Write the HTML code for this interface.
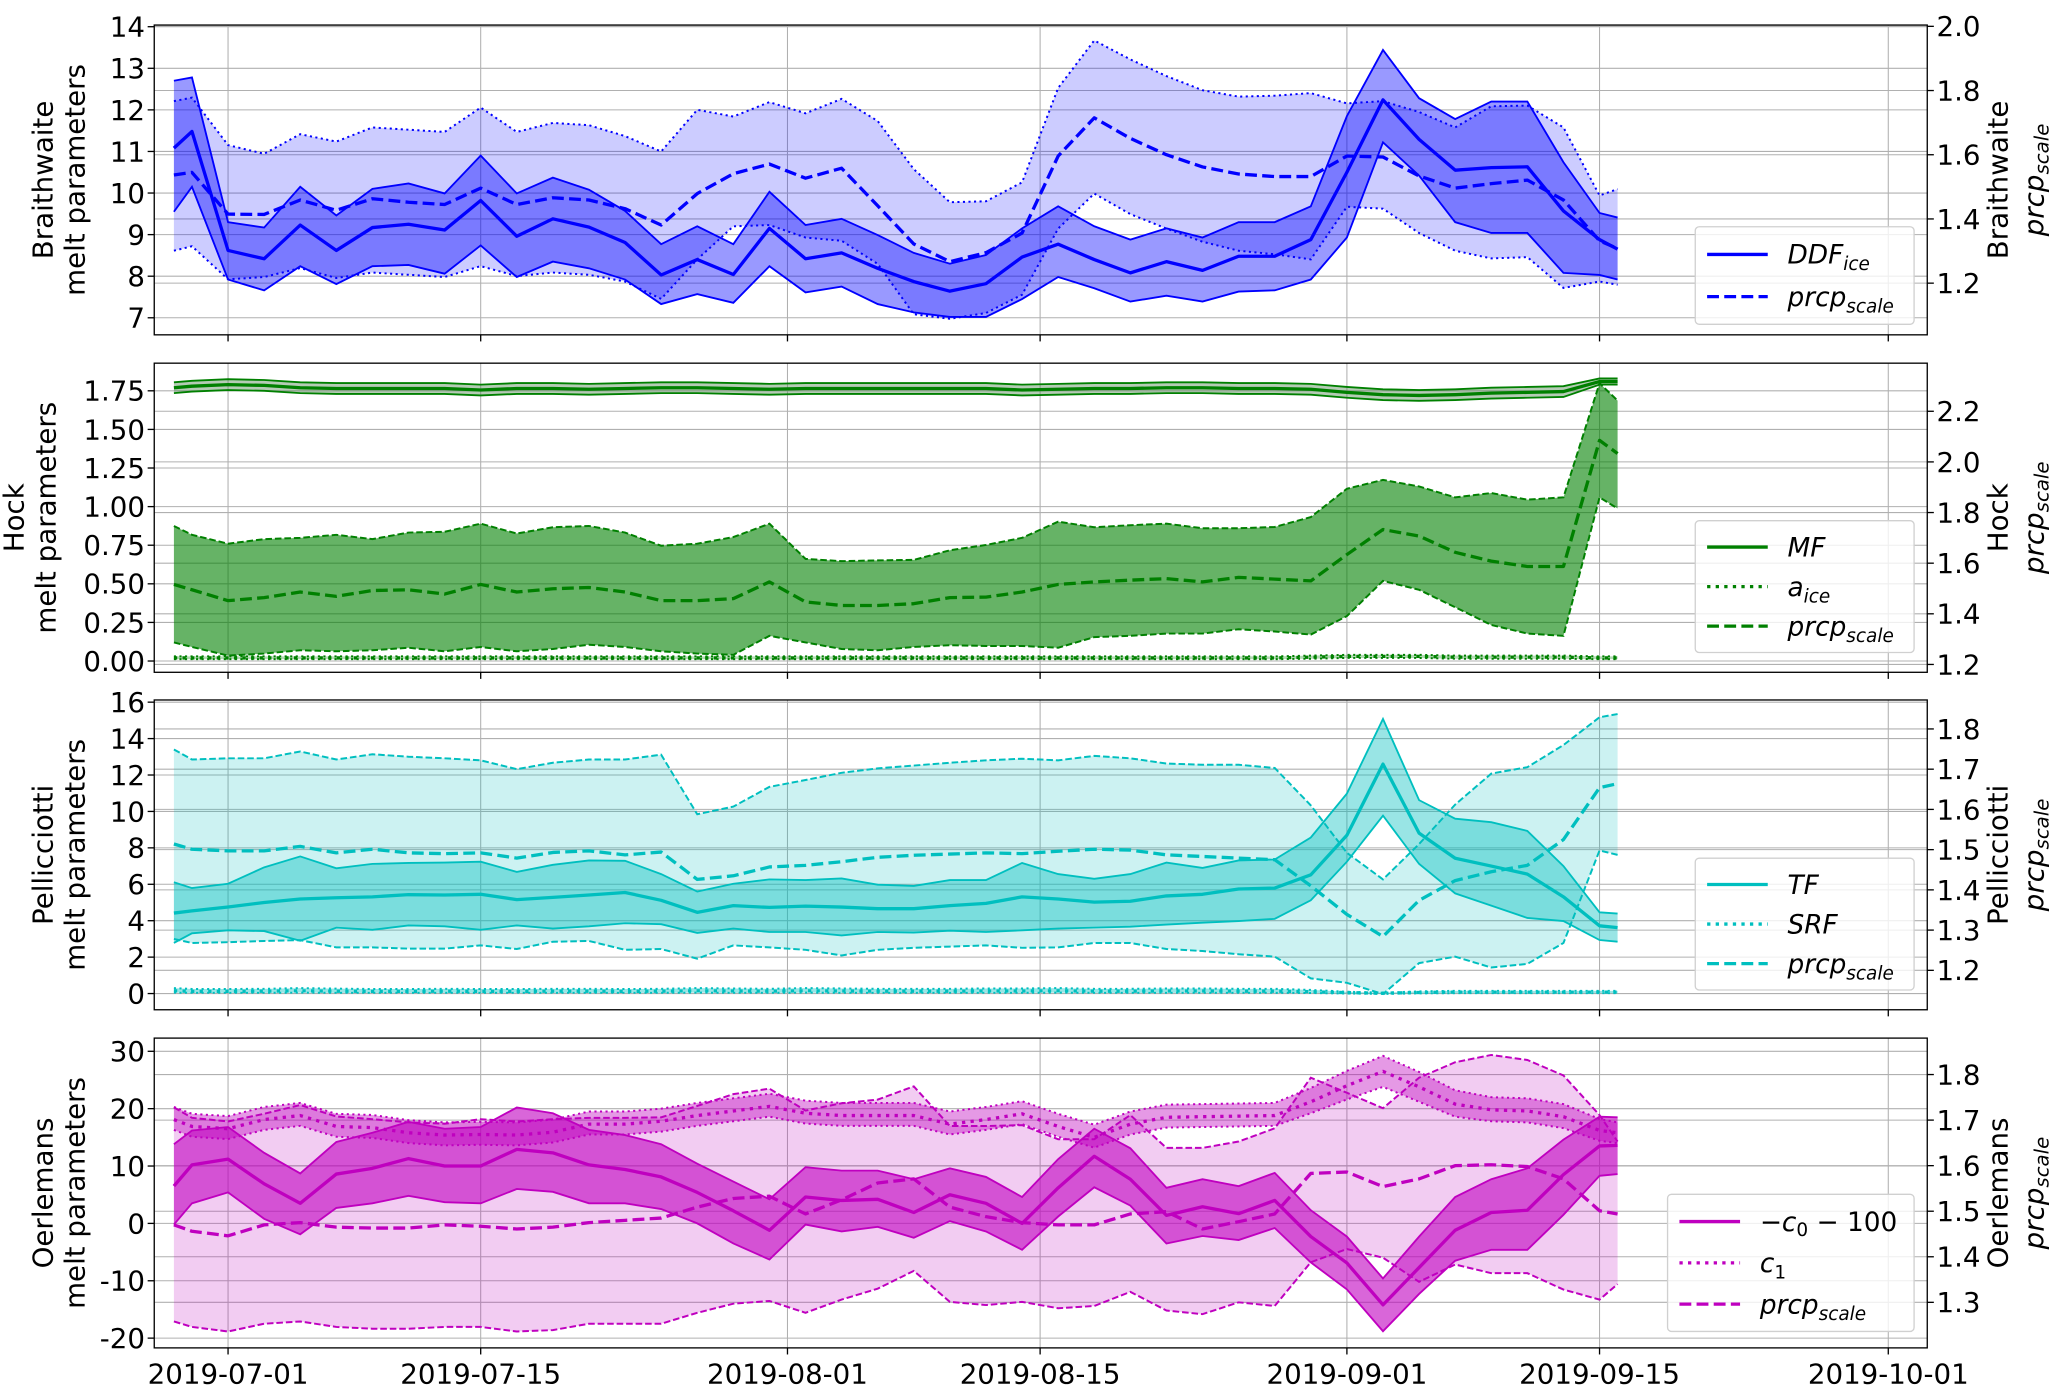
<!DOCTYPE html>
<html><head><meta charset="utf-8"><title>Melt parameters</title>
<style>
html,body{margin:0;padding:0;background:#fff;}
svg{display:block;font-family:"DejaVu Sans","Liberation Sans",sans-serif;}
</style></head>
<body>
<svg id="chart" xmlns="http://www.w3.org/2000/svg" width="2067" height="1396" viewBox="0 0 1568 1059"></svg>
<script>
// ---------- data (days since 2019-07-01) ----------
const dates = [-3,-2,0,2,4,6,8,10,12,14,16,18,20,22,24,26,28,30,32,34,36,38,40,42,44,46,48,50,52,54,56,58,60,62,64,66,68,70,72,74,76,77];

const ddfMean = [11.08,11.48,8.62,8.42,9.23,8.62,9.17,9.25,9.11,9.82,8.96,9.38,9.18,8.81,8.03,8.40,8.04,9.15,8.42,8.56,8.19,7.87,7.64,7.82,8.46,8.77,8.40,8.08,8.35,8.14,8.48,8.48,8.88,10.5,12.24,11.29,10.55,10.61,10.63,9.57,8.88,8.65];
const ddfUpper = [12.70,12.78,9.30,9.17,10.15,9.46,10.10,10.23,9.99,10.90,9.99,10.37,10.08,9.57,8.77,9.20,8.77,10.03,9.23,9.38,8.99,8.56,8.30,8.51,9.15,9.68,9.20,8.88,9.15,8.93,9.30,9.30,9.68,11.85,13.44,12.28,11.78,12.20,12.20,10.74,9.52,9.41];
const ddfLower = [9.55,10.15,7.92,7.66,8.24,7.81,8.24,8.27,8.06,8.74,7.98,8.35,8.19,7.92,7.33,7.57,7.36,8.24,7.61,7.75,7.33,7.13,7.02,7.02,7.45,7.98,7.71,7.39,7.53,7.39,7.63,7.66,7.92,8.93,11.22,10.42,9.30,9.04,9.04,8.08,8.03,7.92];
const prcp1Mean = [1.537,1.545,1.415,1.414,1.459,1.427,1.463,1.452,1.445,1.496,1.445,1.466,1.459,1.432,1.381,1.479,1.541,1.571,1.527,1.558,1.441,1.322,1.267,1.295,1.356,1.596,1.715,1.651,1.600,1.562,1.540,1.532,1.532,1.596,1.593,1.534,1.496,1.510,1.521,1.459,1.332,1.308];
const prcp1Upper = [1.767,1.778,1.630,1.603,1.664,1.641,1.685,1.678,1.671,1.747,1.671,1.699,1.692,1.658,1.610,1.740,1.719,1.764,1.729,1.774,1.705,1.555,1.452,1.455,1.514,1.808,1.956,1.897,1.845,1.801,1.781,1.784,1.792,1.760,1.767,1.733,1.685,1.751,1.753,1.685,1.473,1.493];
const prcp1Lower = [1.301,1.315,1.212,1.219,1.247,1.216,1.233,1.226,1.219,1.253,1.222,1.233,1.226,1.205,1.151,1.274,1.377,1.381,1.342,1.332,1.260,1.103,1.089,1.107,1.164,1.370,1.479,1.415,1.370,1.329,1.301,1.290,1.274,1.438,1.432,1.356,1.301,1.277,1.281,1.185,1.205,1.195];

const mfMean = [1.77,1.78,1.79,1.785,1.77,1.765,1.765,1.765,1.765,1.755,1.765,1.765,1.76,1.765,1.77,1.77,1.765,1.76,1.765,1.765,1.765,1.765,1.765,1.765,1.755,1.76,1.765,1.765,1.77,1.77,1.765,1.765,1.76,1.74,1.725,1.72,1.725,1.735,1.74,1.745,1.81,1.81];
const mfUpper = [1.805,1.815,1.825,1.82,1.805,1.80,1.80,1.80,1.80,1.79,1.80,1.80,1.795,1.80,1.805,1.805,1.80,1.795,1.80,1.80,1.80,1.80,1.80,1.80,1.79,1.795,1.80,1.80,1.805,1.805,1.80,1.80,1.795,1.775,1.76,1.755,1.76,1.77,1.775,1.78,1.83,1.83];
const mfLower = [1.735,1.745,1.755,1.75,1.735,1.73,1.73,1.73,1.73,1.72,1.73,1.73,1.725,1.73,1.735,1.735,1.73,1.725,1.73,1.73,1.73,1.73,1.73,1.73,1.72,1.725,1.73,1.73,1.735,1.735,1.73,1.73,1.725,1.705,1.69,1.685,1.69,1.70,1.705,1.71,1.79,1.79];
const aiceMean = [0.02,0.02,0.02,0.02,0.02,0.02,0.02,0.02,0.02,0.02,0.02,0.02,0.02,0.02,0.02,0.02,0.02,0.02,0.02,0.02,0.02,0.02,0.02,0.02,0.02,0.02,0.02,0.02,0.02,0.02,0.02,0.02,0.025,0.03,0.03,0.03,0.025,0.025,0.025,0.025,0.02,0.02];
const aiceUpper = [0.03,0.03,0.03,0.03,0.03,0.03,0.03,0.03,0.03,0.03,0.03,0.03,0.03,0.03,0.03,0.03,0.03,0.03,0.03,0.03,0.03,0.03,0.03,0.03,0.03,0.03,0.03,0.03,0.03,0.03,0.03,0.03,0.035,0.04,0.04,0.04,0.035,0.035,0.035,0.035,0.03,0.03];
const aiceLower = [0.012,0.012,0.012,0.012,0.012,0.012,0.012,0.012,0.012,0.012,0.012,0.012,0.012,0.012,0.012,0.012,0.012,0.012,0.012,0.012,0.012,0.012,0.012,0.012,0.012,0.012,0.012,0.012,0.012,0.012,0.012,0.012,0.015,0.02,0.02,0.02,0.015,0.015,0.015,0.015,0.012,0.012];
const prcp2Mean = [1.516,1.495,1.452,1.464,1.486,1.469,1.492,1.495,1.478,1.516,1.486,1.499,1.504,1.486,1.452,1.452,1.460,1.526,1.447,1.433,1.433,1.440,1.464,1.466,1.486,1.516,1.526,1.533,1.539,1.526,1.544,1.537,1.530,1.634,1.733,1.707,1.643,1.608,1.587,1.587,2.085,2.033];
const prcp2Upper = [1.747,1.712,1.677,1.695,1.700,1.712,1.695,1.721,1.724,1.756,1.717,1.742,1.747,1.721,1.669,1.677,1.703,1.756,1.617,1.608,1.611,1.613,1.651,1.672,1.700,1.764,1.742,1.750,1.756,1.738,1.738,1.743,1.782,1.894,1.929,1.903,1.860,1.877,1.851,1.860,2.311,2.242];
const prcp2Lower = [1.287,1.269,1.235,1.243,1.256,1.252,1.256,1.266,1.252,1.269,1.252,1.261,1.278,1.269,1.252,1.243,1.238,1.313,1.287,1.261,1.256,1.269,1.276,1.273,1.273,1.266,1.308,1.313,1.322,1.322,1.339,1.330,1.318,1.391,1.530,1.495,1.426,1.356,1.322,1.313,1.860,1.816];

const tfMean = [4.42,4.54,4.75,5.00,5.19,5.26,5.31,5.43,5.41,5.45,5.16,5.28,5.41,5.55,5.12,4.46,4.83,4.73,4.80,4.75,4.66,4.66,4.83,4.95,5.31,5.19,5.02,5.07,5.36,5.45,5.74,5.79,6.52,8.69,12.6,8.81,7.43,7.00,6.56,5.31,3.72,3.62];
const tfUpper = [6.11,5.79,6.03,6.93,7.53,6.88,7.12,7.17,7.19,7.24,6.68,7.07,7.31,7.29,6.56,5.60,6.03,6.27,6.23,6.32,5.98,5.91,6.23,6.23,7.17,6.56,6.30,6.56,7.19,6.90,7.31,7.36,8.57,10.98,15.08,10.62,9.60,9.41,8.93,7.00,4.46,4.39];
const tfLower = [2.78,3.31,3.47,3.43,2.90,3.62,3.50,3.74,3.69,3.50,3.74,3.57,3.69,3.86,3.81,3.33,3.57,3.38,3.38,3.19,3.38,3.35,3.45,3.38,3.47,3.57,3.62,3.67,3.79,3.89,3.98,4.10,5.12,7.24,9.77,7.12,5.50,4.83,4.15,3.98,2.94,2.85];
const srfMean = [0.15,0.12,0.12,0.13,0.15,0.13,0.12,0.12,0.13,0.12,0.12,0.13,0.13,0.12,0.13,0.15,0.14,0.13,0.15,0.14,0.13,0.13,0.13,0.14,0.14,0.15,0.13,0.13,0.14,0.14,0.13,0.13,0.1,0.05,0.02,0.06,0.08,0.08,0.08,0.08,0.08,0.08];
const srfUpper = [0.3,0.25,0.25,0.26,0.3,0.27,0.25,0.25,0.26,0.25,0.25,0.26,0.26,0.25,0.26,0.3,0.28,0.26,0.3,0.28,0.26,0.26,0.26,0.28,0.28,0.3,0.26,0.26,0.28,0.28,0.26,0.26,0.2,0.1,0.05,0.12,0.15,0.15,0.15,0.15,0.15,0.15];
const srfLower = [0.05,0.04,0.04,0.04,0.05,0.04,0.04,0.04,0.04,0.04,0.04,0.04,0.04,0.04,0.04,0.05,0.04,0.04,0.05,0.04,0.04,0.04,0.04,0.04,0.04,0.05,0.04,0.04,0.04,0.04,0.04,0.04,0.03,0.0,-0.02,0.01,0.02,0.02,0.02,0.02,0.02,0.02];
const prcp3Mean = [1.514,1.501,1.497,1.497,1.508,1.492,1.501,1.492,1.490,1.492,1.479,1.493,1.497,1.487,1.494,1.426,1.435,1.457,1.461,1.470,1.481,1.486,1.489,1.492,1.490,1.496,1.501,1.499,1.487,1.483,1.479,1.475,1.410,1.339,1.284,1.374,1.423,1.445,1.461,1.525,1.654,1.664];
const prcp3Upper = [1.749,1.724,1.727,1.727,1.744,1.724,1.737,1.731,1.727,1.722,1.700,1.716,1.724,1.724,1.736,1.588,1.607,1.656,1.673,1.691,1.702,1.709,1.716,1.722,1.726,1.722,1.733,1.727,1.714,1.711,1.711,1.703,1.610,1.492,1.426,1.514,1.612,1.689,1.705,1.760,1.829,1.837];
const prcp3Lower = [1.278,1.268,1.270,1.273,1.275,1.257,1.257,1.254,1.254,1.262,1.253,1.271,1.273,1.251,1.253,1.229,1.262,1.257,1.251,1.237,1.251,1.256,1.259,1.262,1.256,1.257,1.268,1.268,1.253,1.248,1.240,1.234,1.180,1.169,1.141,1.218,1.234,1.207,1.216,1.268,1.498,1.487];

const c0Mean = [6.5,10.2,11.2,6.9,3.5,8.6,9.6,11.3,10.0,10.0,12.9,12.3,10.2,9.4,8.1,5.4,2.2,-1.2,4.6,4.0,4.2,1.9,5.0,3.5,0.0,6.2,11.7,7.7,1.4,2.9,1.7,4.0,-2.3,-6.9,-14.2,-7.7,-1.2,1.9,2.3,8.5,13.5,13.6];
const c0Upper = [13.8,16.2,16.8,12.3,8.7,14.2,15.8,17.7,16.5,16.8,20.2,19.2,16.3,15.4,13.8,10.4,7.3,4.2,9.8,9.2,9.2,7.7,9.6,8.1,4.6,11.2,16.5,13.1,6.2,7.7,6.5,8.8,2.3,-2.3,-9.6,-2.3,4.6,7.7,9.6,14.6,18.6,18.5];
const c0Lower = [-0.2,3.5,5.4,0.8,-1.9,2.7,3.5,4.8,3.7,3.5,6.0,5.5,3.5,3.5,2.5,0.0,-3.5,-6.3,-0.2,-1.4,-0.6,-2.5,0.4,-1.4,-4.6,1.2,6.3,3.1,-3.5,-2.2,-2.9,-0.8,-6.8,-11.5,-18.8,-12.3,-6.5,-4.6,-4.6,1.5,8.3,8.6];
const c1Mean = [18.1,16.9,16.5,18.1,18.8,16.9,16.7,15.8,15.4,15.5,15.4,15.9,17.3,17.3,17.8,18.8,19.6,20.4,19.2,18.8,18.8,18.8,17.3,18.1,19.1,16.9,15.0,17.3,18.5,18.6,18.7,18.8,21.2,24.0,26.5,23.8,20.8,19.8,19.6,18.6,16.2,15.8];
const c1Upper = [20.3,19.1,18.7,20.3,21.0,19.1,18.9,18.0,17.6,17.7,17.6,18.1,19.5,19.5,20.0,21.0,21.8,22.6,21.4,21.0,21.0,21.0,19.5,20.3,21.3,19.1,17.2,19.5,20.7,20.8,20.9,21.0,23.6,26.6,29.2,26.4,23.2,22.0,21.8,20.8,18.2,17.6];
const c1Lower = [16.3,15.1,14.7,16.3,17.0,15.1,14.9,14.0,13.6,13.7,13.6,14.1,15.5,15.5,16.0,17.0,17.8,18.6,17.4,17.0,17.0,17.0,15.5,16.3,17.3,15.1,13.2,15.5,16.7,16.8,16.9,17.0,19.2,21.6,23.8,21.2,18.6,17.8,17.6,16.6,14.4,14.0];
const prcp4Mean = [1.470,1.456,1.446,1.470,1.475,1.465,1.463,1.463,1.470,1.467,1.461,1.465,1.475,1.480,1.485,1.509,1.528,1.533,1.494,1.525,1.562,1.571,1.509,1.488,1.475,1.470,1.470,1.494,1.499,1.461,1.477,1.494,1.583,1.586,1.554,1.571,1.600,1.602,1.598,1.571,1.501,1.494];
const prcp4Upper = [1.728,1.705,1.697,1.714,1.733,1.708,1.702,1.695,1.692,1.702,1.697,1.702,1.705,1.705,1.706,1.731,1.757,1.769,1.721,1.737,1.745,1.774,1.687,1.687,1.689,1.658,1.658,1.711,1.639,1.639,1.653,1.682,1.793,1.760,1.726,1.793,1.827,1.843,1.832,1.798,1.711,1.653];
const prcp4Lower = [1.258,1.246,1.236,1.253,1.258,1.246,1.242,1.242,1.246,1.246,1.236,1.239,1.253,1.253,1.253,1.277,1.297,1.303,1.277,1.306,1.330,1.369,1.301,1.294,1.301,1.287,1.292,1.323,1.282,1.274,1.300,1.292,1.388,1.417,1.398,1.345,1.383,1.364,1.364,1.328,1.306,1.340];

const xTickDays = [0,14,31,45,62,76,92];
const xTickLabels = ["2019-07-01","2019-07-15","2019-08-01","2019-08-15","2019-09-01","2019-09-15","2019-10-01"];
const p1LeftTicks = [7,8,9,10,11,12,13,14];
const p1RightTicks = [1.2,1.4,1.6,1.8,2.0];
const p2LeftTicks = [0,0.25,0.5,0.75,1.0,1.25,1.5,1.75];
const p2RightTicks = [1.2,1.4,1.6,1.8,2.0,2.2];
const p3LeftTicks = [0,2,4,6,8,10,12,14,16];
const p3RightTicks = [1.2,1.3,1.4,1.5,1.6,1.7,1.8];
const p4LeftTicks = [-20,-10,0,10,20,30];
const p4RightTicks = [1.3,1.4,1.5,1.6,1.7,1.8];

// ---------- drawing ----------
const NS = "http://www.w3.org/2000/svg";
const svg = document.getElementById("chart");
const AX_L = 117, AX_R = 1462;
const X_D0 = -4.09, X_D1 = 94.16;
function xs(d){ return AX_L + (d - X_D0) * (AX_R - AX_L) / (X_D1 - X_D0); }
function lin(d0,d1,p0,p1){ return v => p0 + (v - d0) * (p1 - p0) / (d1 - d0); }
function el(tag, attrs, parent){
  const e = document.createElementNS(NS, tag);
  for (const k in attrs) e.setAttribute(k, attrs[k]);
  (parent || svg).appendChild(e);
  return e;
}
function linePath(ys, sy){
  return dates.map((d,i) => (i ? "L" : "M") + xs(d).toFixed(2) + "," + sy(ys[i]).toFixed(2)).join("");
}
function bandPath(lo, up, sy){
  let p = dates.map((d,i) => (i ? "L" : "M") + xs(d).toFixed(2) + "," + sy(up[i]).toFixed(2)).join("");
  for (let i = dates.length - 1; i >= 0; i--) p += "L" + xs(dates[i]).toFixed(2) + "," + sy(lo[i]).toFixed(2);
  return p + "Z";
}
const DASH = {solid:"", dashed:"9,4", thinDashed:"5,2.2", dotted:"2.5,4", thinDotted:"1.6,2.6"};
const TICK_FS = 21;

const panels = [
  {key:"braithwaite", name:"Braithwaite", titleX:44, top:19, bot:254, lDom:[14.04,6.59], rDom:[2.004,1.039],
   lTicks:p1LeftTicks, rTicks:p1RightTicks, lFmt:v=>String(v), rFmt:v=>v.toFixed(1), color:"#0000ff",
   legend:{x:1286,y:172,w:166,h:74}},
  {key:"hock", name:"Hock", titleX:22, top:275.5, bot:510, lDom:[1.929,-0.073], rDom:[2.39,1.169],
   lTicks:p2LeftTicks, rTicks:p2RightTicks, lFmt:v=>v.toFixed(2), rFmt:v=>v.toFixed(1), color:"#008000",
   legend:{x:1286,y:395,w:166,h:100}},
  {key:"pellicciotti", name:"Pellicciotti", titleX:44, top:531, bot:766, lDom:[16.12,-0.89], rDom:[1.872,1.102],
   lTicks:p3LeftTicks, rTicks:p3RightTicks, lFmt:v=>String(v), rFmt:v=>v.toFixed(1), color:"#00bfbf",
   legend:{x:1286,y:651,w:166,h:100}},
  {key:"oerlemans", name:"Oerlemans", titleX:44, top:787.5, bot:1022.5, lDom:[32.3,-21.7], rDom:[1.88,1.2],
   lTicks:p4LeftTicks, rTicks:p4RightTicks, lFmt:v=>String(v), rFmt:v=>v.toFixed(1), color:"#bf00bf",
   legend:{x:1265,y:906,w:187,h:104}}
];

const seriesSpec = [
  [
    {t:"band", ax:"R", lo:prcp1Lower, up:prcp1Upper, fill:"rgba(0,0,255,0.2)", edge:"thinDotted", n:"prcp-scale"},
    {t:"band", ax:"L", lo:ddfLower, up:ddfUpper, fill:"rgba(0,0,255,0.4)", edge:"solid", n:"ddf-ice"},
    {t:"line", ax:"L", v:ddfMean, dash:"solid", n:"ddf-ice"},
    {t:"line", ax:"R", v:prcp1Mean, dash:"dashed", n:"prcp-scale"}
  ],
  [
    {t:"band", ax:"L", lo:mfLower, up:mfUpper, fill:"rgba(90,140,90,0.45)", edge:"solid", n:"mf"},
    {t:"band", ax:"L", lo:aiceLower, up:aiceUpper, fill:"rgba(0,128,0,0.3)", edge:"thinDotted", n:"a-ice"},
    {t:"band", ax:"R", lo:prcp2Lower, up:prcp2Upper, fill:"rgba(0,128,0,0.6)", edge:"thinDashed", n:"prcp-scale"},
    {t:"line", ax:"L", v:mfMean, dash:"solid", n:"mf"},
    {t:"line", ax:"L", v:aiceMean, dash:"dotted", n:"a-ice"},
    {t:"line", ax:"R", v:prcp2Mean, dash:"dashed", n:"prcp-scale"}
  ],
  [
    {t:"band", ax:"R", lo:prcp3Lower, up:prcp3Upper, fill:"rgba(0,191,191,0.2)", edge:"thinDashed", n:"prcp-scale"},
    {t:"band", ax:"L", lo:tfLower, up:tfUpper, fill:"rgba(0,191,191,0.4)", edge:"solid", n:"tf"},
    {t:"band", ax:"L", lo:srfLower, up:srfUpper, fill:"rgba(0,191,191,0.4)", edge:"thinDotted", n:"srf"},
    {t:"line", ax:"L", v:tfMean, dash:"solid", n:"tf"},
    {t:"line", ax:"L", v:srfMean, dash:"dotted", n:"srf"},
    {t:"line", ax:"R", v:prcp3Mean, dash:"dashed", n:"prcp-scale"}
  ],
  [
    {t:"band", ax:"R", lo:prcp4Lower, up:prcp4Upper, fill:"rgba(191,0,191,0.2)", edge:"thinDashed", n:"prcp-scale"},
    {t:"band", ax:"L", lo:c1Lower, up:c1Upper, fill:"rgba(191,0,191,0.4)", edge:"thinDotted", n:"c1"},
    {t:"band", ax:"L", lo:c0Lower, up:c0Upper, fill:"rgba(191,0,191,0.6)", edge:"solid", n:"c0"},
    {t:"line", ax:"L", v:c0Mean, dash:"solid", n:"c0"},
    {t:"line", ax:"L", v:c1Mean, dash:"dotted", n:"c1"},
    {t:"line", ax:"R", v:prcp4Mean, dash:"dashed", n:"prcp-scale"}
  ]
];

const defs = el("defs", {});
panels.forEach((P, pi) => {
  const g = el("g", {});
  
  
  const syL = lin(P.lDom[0], P.lDom[1], P.top, P.bot);
  const syR = lin(P.rDom[0], P.rDom[1], P.top, P.bot);
  const cp = el("clipPath", {id:"clip"+pi}, defs);
  el("rect", {x:AX_L, y:P.top, width:AX_R-AX_L, height:P.bot-P.top}, cp);

  const grid = el("g", {stroke:"#b0b0b0", "stroke-width":0.8}, g);
  
  
  xTickDays.forEach(d => el("line", {x1:xs(d), x2:xs(d), y1:P.top, y2:P.bot}, grid));
  P.lTicks.forEach(v => el("line", {x1:AX_L, x2:AX_R, y1:syL(v), y2:syL(v)}, grid));
  P.rTicks.forEach(v => el("line", {x1:AX_L, x2:AX_R, y1:syR(v), y2:syR(v)}, grid));

  const sg = el("g", {"clip-path":"url(#clip"+pi+")"}, g);
  seriesSpec[pi].forEach(s => {
    const sy = s.ax === "L" ? syL : syR;
    if (s.t === "band") {
      const f = el("path", {d:bandPath(s.lo, s.up, sy), fill:s.fill, stroke:"none"}, sg);
      
      
      [s.lo, s.up].forEach((arr, k) => {
        const e = el("path", {d:linePath(arr, sy), fill:"none", stroke:P.color,
          "stroke-width": s.edge === "solid" ? 1.4 : 1.5, "stroke-dasharray": DASH[s.edge]}, sg);
        
        
      });
    } else {
      const ln = el("path", {d:linePath(s.v, sy), fill:"none", stroke:P.color, "stroke-width":2.5,
        "stroke-dasharray": DASH[s.dash], "stroke-linejoin":"round"}, sg);
      
      
    }
  });

  const fr = el("rect", {x:AX_L, y:P.top, width:AX_R-AX_L, height:P.bot-P.top, fill:"none", stroke:"#000", "stroke-width":1}, g);
  
  

  const tg = el("g", {"font-size":TICK_FS, fill:"#000"}, g);
  
  
  P.lTicks.forEach(v => {
    el("line", {x1:AX_L-5, x2:AX_L, y1:syL(v), y2:syL(v), stroke:"#000", "stroke-width":1}, tg);
    const t = el("text", {x:AX_L-7, y:syL(v)+7.5, "text-anchor":"end"}, tg);
    t.textContent = P.lFmt(v);
    
    
  });
  P.rTicks.forEach(v => {
    el("line", {x1:AX_R, x2:AX_R+5, y1:syR(v), y2:syR(v), stroke:"#000", "stroke-width":1}, tg);
    const t = el("text", {x:AX_R+7, y:syR(v)+7.5, "text-anchor":"start"}, tg);
    t.textContent = P.rFmt(v);
    
    
  });
  xTickDays.forEach((d, i) => {
    el("line", {x1:xs(d), x2:xs(d), y1:P.bot, y2:P.bot+5, stroke:"#000", "stroke-width":1}, tg);
    if (pi === 3) {
      const t = el("text", {x:xs(d), y:P.bot+27, "text-anchor":"middle"}, tg);
      t.textContent = xTickLabels[i];
      
      
    }
  });

  const cy = (P.top + P.bot) / 2;
  const lt = el("text", {transform:"translate("+P.titleX+","+cy+") rotate(-90)", "text-anchor":"middle", "font-size":21}, g);
  
  
  const l1 = el("tspan", {x:0, dy:-4}, lt); l1.textContent = P.name;
  const l2 = el("tspan", {x:0, dy:24}, lt); l2.textContent = "melt parameters";
  const rt = el("text", {transform:"translate(1523,"+cy+") rotate(-90)", "text-anchor":"middle", "font-size":21}, g);
  
  
  rt.textContent = P.name;
  const rt2 = el("text", {transform:"translate(1550,"+cy+") rotate(-90)", "text-anchor":"middle", "font-size":21}, g);
  
  
  const a = el("tspan", {"font-style":"italic"}, rt2); a.textContent = "prcp";
  const b = el("tspan", {"font-style":"italic", "font-size":15, dy:4}, rt2); b.textContent = "scale";
});

const legendEntries = [
  [["solid","DDF","ice"],["dashed","prcp","scale"]],
  [["solid","MF",""],["dotted","a","ice"],["dashed","prcp","scale"]],
  [["solid","TF",""],["dotted","SRF",""],["dashed","prcp","scale"]],
  [["solid","c0",""],["dotted","c","1"],["dashed","prcp","scale"]]
];
panels.forEach((P, pi) => {
  const L = P.legend;
  const lg = el("g", {"font-size":20}, svg);
  
  
  el("rect", {x:L.x, y:L.y, width:L.w, height:L.h, rx:3, fill:"rgba(255,255,255,0.8)", stroke:"#d0d0d0", "stroke-width":1}, lg);
  const n = legendEntries[pi].length;
  const step = (L.h - 10) / n;
  legendEntries[pi].forEach((e, i) => {
    const y = L.y + 5 + step * (i + 0.5);
    const ent = el("g", {}, lg);
    
    
    el("line", {x1:L.x+9, x2:L.x+55, y1:y, y2:y, stroke:P.color, "stroke-width":2.5, "stroke-dasharray":DASH[e[0]]}, ent);
    const t = el("text", {x:L.x+70, y:y+7}, ent);
    if (e[1] === "c0") {
      const m = el("tspan", {}, t); m.textContent = "\u2212";
      const c = el("tspan", {"font-style":"italic"}, t); c.textContent = "c";
      const s = el("tspan", {"font-size":14, dy:4}, t); s.textContent = "0";
      const r = el("tspan", {dy:-4}, t); r.textContent = " \u2212 100";
    } else {
      const m = el("tspan", {"font-style":"italic"}, t); m.textContent = e[1];
      if (e[2]) { const s = el("tspan", {"font-style": e[2] === "1" ? "normal" : "italic", "font-size":14, dy:5}, t); s.textContent = e[2]; }
    }
  });
});
</script>
</body></html>
